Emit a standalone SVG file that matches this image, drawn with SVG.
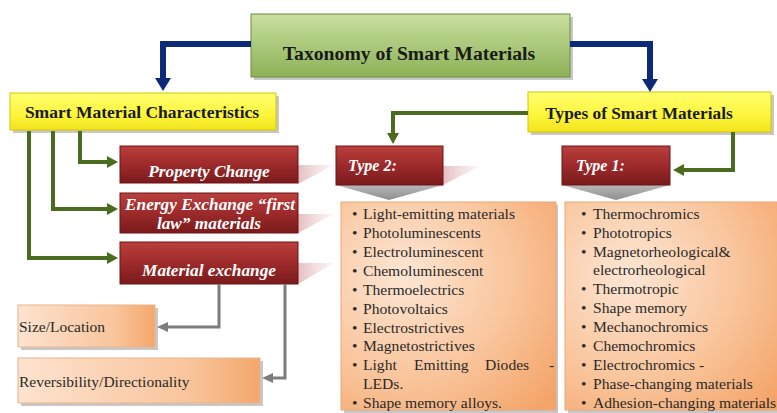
<svg xmlns="http://www.w3.org/2000/svg" width="777" height="413" viewBox="0 0 777 413">
<defs>
<linearGradient id="gGreen" x1="0" y1="0" x2="0" y2="1">
<stop offset="0" stop-color="#c9dfa0"/><stop offset="0.5" stop-color="#aac97a"/><stop offset="1" stop-color="#8db158"/>
</linearGradient>
<linearGradient id="gYellow" x1="0" y1="0" x2="0" y2="1">
<stop offset="0" stop-color="#ffff70"/><stop offset="0.6" stop-color="#fcf53a"/><stop offset="1" stop-color="#f2e41e"/>
</linearGradient>
<linearGradient id="gRed" x1="0" y1="0" x2="0" y2="1">
<stop offset="0" stop-color="#b9403d"/><stop offset="0.45" stop-color="#a02c2c"/><stop offset="1" stop-color="#7a1a1c"/>
</linearGradient>
<linearGradient id="gChev" x1="0" y1="0" x2="0" y2="1">
<stop offset="0" stop-color="#b8b8b8"/><stop offset="1" stop-color="#8e8e8e"/>
</linearGradient>
<radialGradient id="gPeach" cx="0.3" cy="0.35" r="0.9">
<stop offset="0" stop-color="#fde6d4"/><stop offset="0.55" stop-color="#f9c59c"/><stop offset="1" stop-color="#f4a468"/>
</radialGradient>
<linearGradient id="gPeachSmall" x1="0" y1="0" x2="1" y2="0">
<stop offset="0" stop-color="#fde3cf"/><stop offset="0.7" stop-color="#f9c59c"/><stop offset="1" stop-color="#f4a76c"/>
</linearGradient>
<linearGradient id="gPink" x1="0" y1="0" x2="1" y2="0">
<stop offset="0" stop-color="#d9a2a8" stop-opacity="0.7"/><stop offset="1" stop-color="#e8c4c8" stop-opacity="0.15"/>
</linearGradient>
<marker id="mGreen" markerUnits="userSpaceOnUse" markerWidth="12" markerHeight="12" refX="0" refY="6" orient="auto">
<path d="M0,0 L11,6 L0,12 z" fill="#4b6b1f"/>
</marker>
<marker id="mBlue" markerUnits="userSpaceOnUse" markerWidth="16" markerHeight="16" refX="0" refY="8" orient="auto">
<path d="M0,0 L13,8 L0,16 z" fill="#0d2a78"/>
</marker>
<marker id="mGray" markerUnits="userSpaceOnUse" markerWidth="12" markerHeight="12" refX="0" refY="6" orient="auto">
<path d="M0,1 L11,6 L0,11 z" fill="#7d7d7d"/>
</marker>
</defs>
<style>
.shadow{fill:#9a9a9a;opacity:0.55}
.title{font-family:"Liberation Serif","Times New Roman",serif;font-weight:bold;fill:#1a1a1a}
.red{fill:url(#gRed);stroke:#6e1416;stroke-width:1}
.rtxt{font-family:"Liberation Serif","Times New Roman",serif;font-weight:bold;font-style:italic;fill:#ffffff;font-size:17.3px}
.ttxt{font-family:"Liberation Serif","Times New Roman",serif;font-weight:bold;font-style:italic;fill:#ffffff;font-size:16px}
.list{font-family:"Liberation Serif","Times New Roman",serif;fill:#2a2a2a;font-size:15.6px}
.small{font-family:"Liberation Serif","Times New Roman",serif;fill:#2a2a2a;font-size:15.5px}
.pink{fill:url(#gPink)}
.cg{fill:none;stroke:#4b6b1f;stroke-width:4;marker-end:url(#mGreen)}
.cb{fill:none;stroke:#0d2a78;stroke-width:6;marker-end:url(#mBlue)}
.cy{fill:none;stroke:#7d7d7d;stroke-width:3;marker-end:url(#mGray)}
</style>
<rect width="777" height="413" fill="#ffffff"/>

<g id="reflections">
<polygon class="pink" points="298,165 334,165 298,184"/>
<polygon class="pink" points="298,214 334,214 298,233"/>
<polygon class="pink" points="298,263 334,263 298,284"/>
<polygon class="pink" points="443,166 480,166 443,185"/>
</g>

<g id="taxonomy">
<rect class="shadow" x="254" y="17" width="319" height="63"/>
<rect x="251" y="14" width="319" height="63" fill="url(#gGreen)" stroke="#6e8c3c" stroke-width="1"/>
<text class="title" x="409" y="60" font-size="19.7" text-anchor="middle">Taxonomy of Smart Materials</text>
</g>

<g id="characteristics">
<rect class="shadow" x="13" y="96" width="266" height="37"/>
<rect x="10" y="93" width="266" height="37" fill="url(#gYellow)" stroke="#d9c400" stroke-width="1"/>
<text class="title" x="142" y="118" font-size="17.5" text-anchor="middle">Smart Material Characteristics</text>
</g>

<g id="types">
<rect class="shadow" x="531" y="95" width="243" height="40"/>
<rect x="528" y="92" width="243" height="40" fill="url(#gYellow)" stroke="#d9c400" stroke-width="1"/>
<text class="title" x="639" y="119" font-size="17.3" text-anchor="middle">Types of Smart Materials</text>
</g>

<g id="property-change">
<rect class="red" x="120" y="146" width="178" height="37"/>
<text class="rtxt" x="209" y="177" text-anchor="middle">Property Change</text>
</g>

<g id="energy-exchange">
<rect class="red" x="120" y="193" width="178" height="40"/>
<text class="rtxt" x="210" y="210" text-anchor="middle">Energy Exchange “first</text>
<text class="rtxt" x="209" y="229" text-anchor="middle">law” materials</text>
</g>

<g id="material-exchange">
<rect class="red" x="120" y="242" width="178" height="42"/>
<text class="rtxt" x="209" y="276" text-anchor="middle">Material exchange</text>
</g>

<g id="type2">
<polygon points="336,185 443,185 389,200" fill="url(#gChev)"/>
<rect class="red" x="336" y="146" width="107" height="39"/>
<text class="ttxt" x="348" y="171">Type 2:</text>
</g>

<g id="type1">
<polygon points="562,185 670,185 616,200" fill="url(#gChev)"/>
<rect class="red" x="562" y="146" width="108" height="39"/>
<text class="ttxt" x="576" y="171">Type 1:</text>
</g>

<g id="type2-list">
<rect class="shadow" x="344" y="205" width="214" height="210"/>
<rect x="341" y="202" width="215" height="208" fill="url(#gPeach)" stroke="#e8a878" stroke-width="1"/>
<g class="list">
<text x="352" y="219">•</text><text x="363" y="219">Light-emitting materials</text>
<text x="352" y="238">•</text><text x="363" y="238">Photoluminescents</text>
<text x="352" y="257">•</text><text x="363" y="257">Electroluminescent</text>
<text x="352" y="276">•</text><text x="363" y="276">Chemoluminescent</text>
<text x="352" y="295">•</text><text x="363" y="295">Thermoelectrics</text>
<text x="352" y="314">•</text><text x="363" y="314">Photovoltaics</text>
<text x="352" y="333">•</text><text x="363" y="333">Electrostrictives</text>
<text x="352" y="351">•</text><text x="363" y="351">Magnetostrictives</text>
<text x="352" y="370">•</text><text x="363" y="370">Light</text><text x="414" y="370">Emitting</text><text x="485" y="370">Diodes</text><text x="549" y="370">-</text>
<text x="363" y="389">LEDs.</text>
<text x="352" y="408">•</text><text x="363" y="408">Shape memory alloys.</text>
</g>
</g>

<g id="type1-list">
<rect class="shadow" x="568" y="205" width="212" height="210"/>
<rect x="565" y="202" width="215" height="208" fill="url(#gPeach)" stroke="#e8a878" stroke-width="1"/>
<g class="list">
<text x="581" y="219">•</text><text x="593" y="219">Thermochromics</text>
<text x="581" y="238">•</text><text x="593" y="238">Phototropics</text>
<text x="581" y="257">•</text><text x="593" y="257">Magnetorheological&amp;</text>
<text x="593" y="275">electrorheological</text>
<text x="581" y="294">•</text><text x="593" y="294">Thermotropic</text>
<text x="581" y="313">•</text><text x="593" y="313">Shape memory</text>
<text x="581" y="332">•</text><text x="593" y="332">Mechanochromics</text>
<text x="581" y="351">•</text><text x="593" y="351">Chemochromics</text>
<text x="581" y="370">•</text><text x="593" y="370">Electrochromics -</text>
<text x="581" y="389">•</text><text x="593" y="389">Phase-changing materials</text>
<text x="581" y="408">•</text><text x="593" y="408">Adhesion-changing materials</text>
</g>
</g>

<g id="size-location">
<rect class="shadow" x="21" y="308" width="137" height="42"/>
<rect x="18" y="305" width="137" height="42" fill="url(#gPeachSmall)" stroke="#eab48a" stroke-width="1"/>
<text class="small" x="19" y="332">Size/Location</text>
</g>

<g id="reversibility">
<rect class="shadow" x="21" y="361" width="242" height="45"/>
<rect x="18" y="358" width="242" height="45" fill="url(#gPeachSmall)" stroke="#eab48a" stroke-width="1"/>
<text class="small" x="19" y="387">Reversibility/Directionality</text>
</g>

<g id="connectors">
<path class="cb" d="M251,44 H163 V78"/>
<path class="cb" d="M570,44 H650 V79"/>
<path class="cg" d="M80,131 V162 H107"/>
<path class="cg" d="M53,131 V209 H107"/>
<path class="cg" d="M29,131 V258 H107"/>
<path class="cg" d="M528,113 H393 V133"/>
<path class="cg" d="M733,132 V170 H684"/>
<path class="cy" d="M219,284 V327 H168"/>
<path class="cy" d="M285,284 V378 H273"/>
</g>
</svg>
